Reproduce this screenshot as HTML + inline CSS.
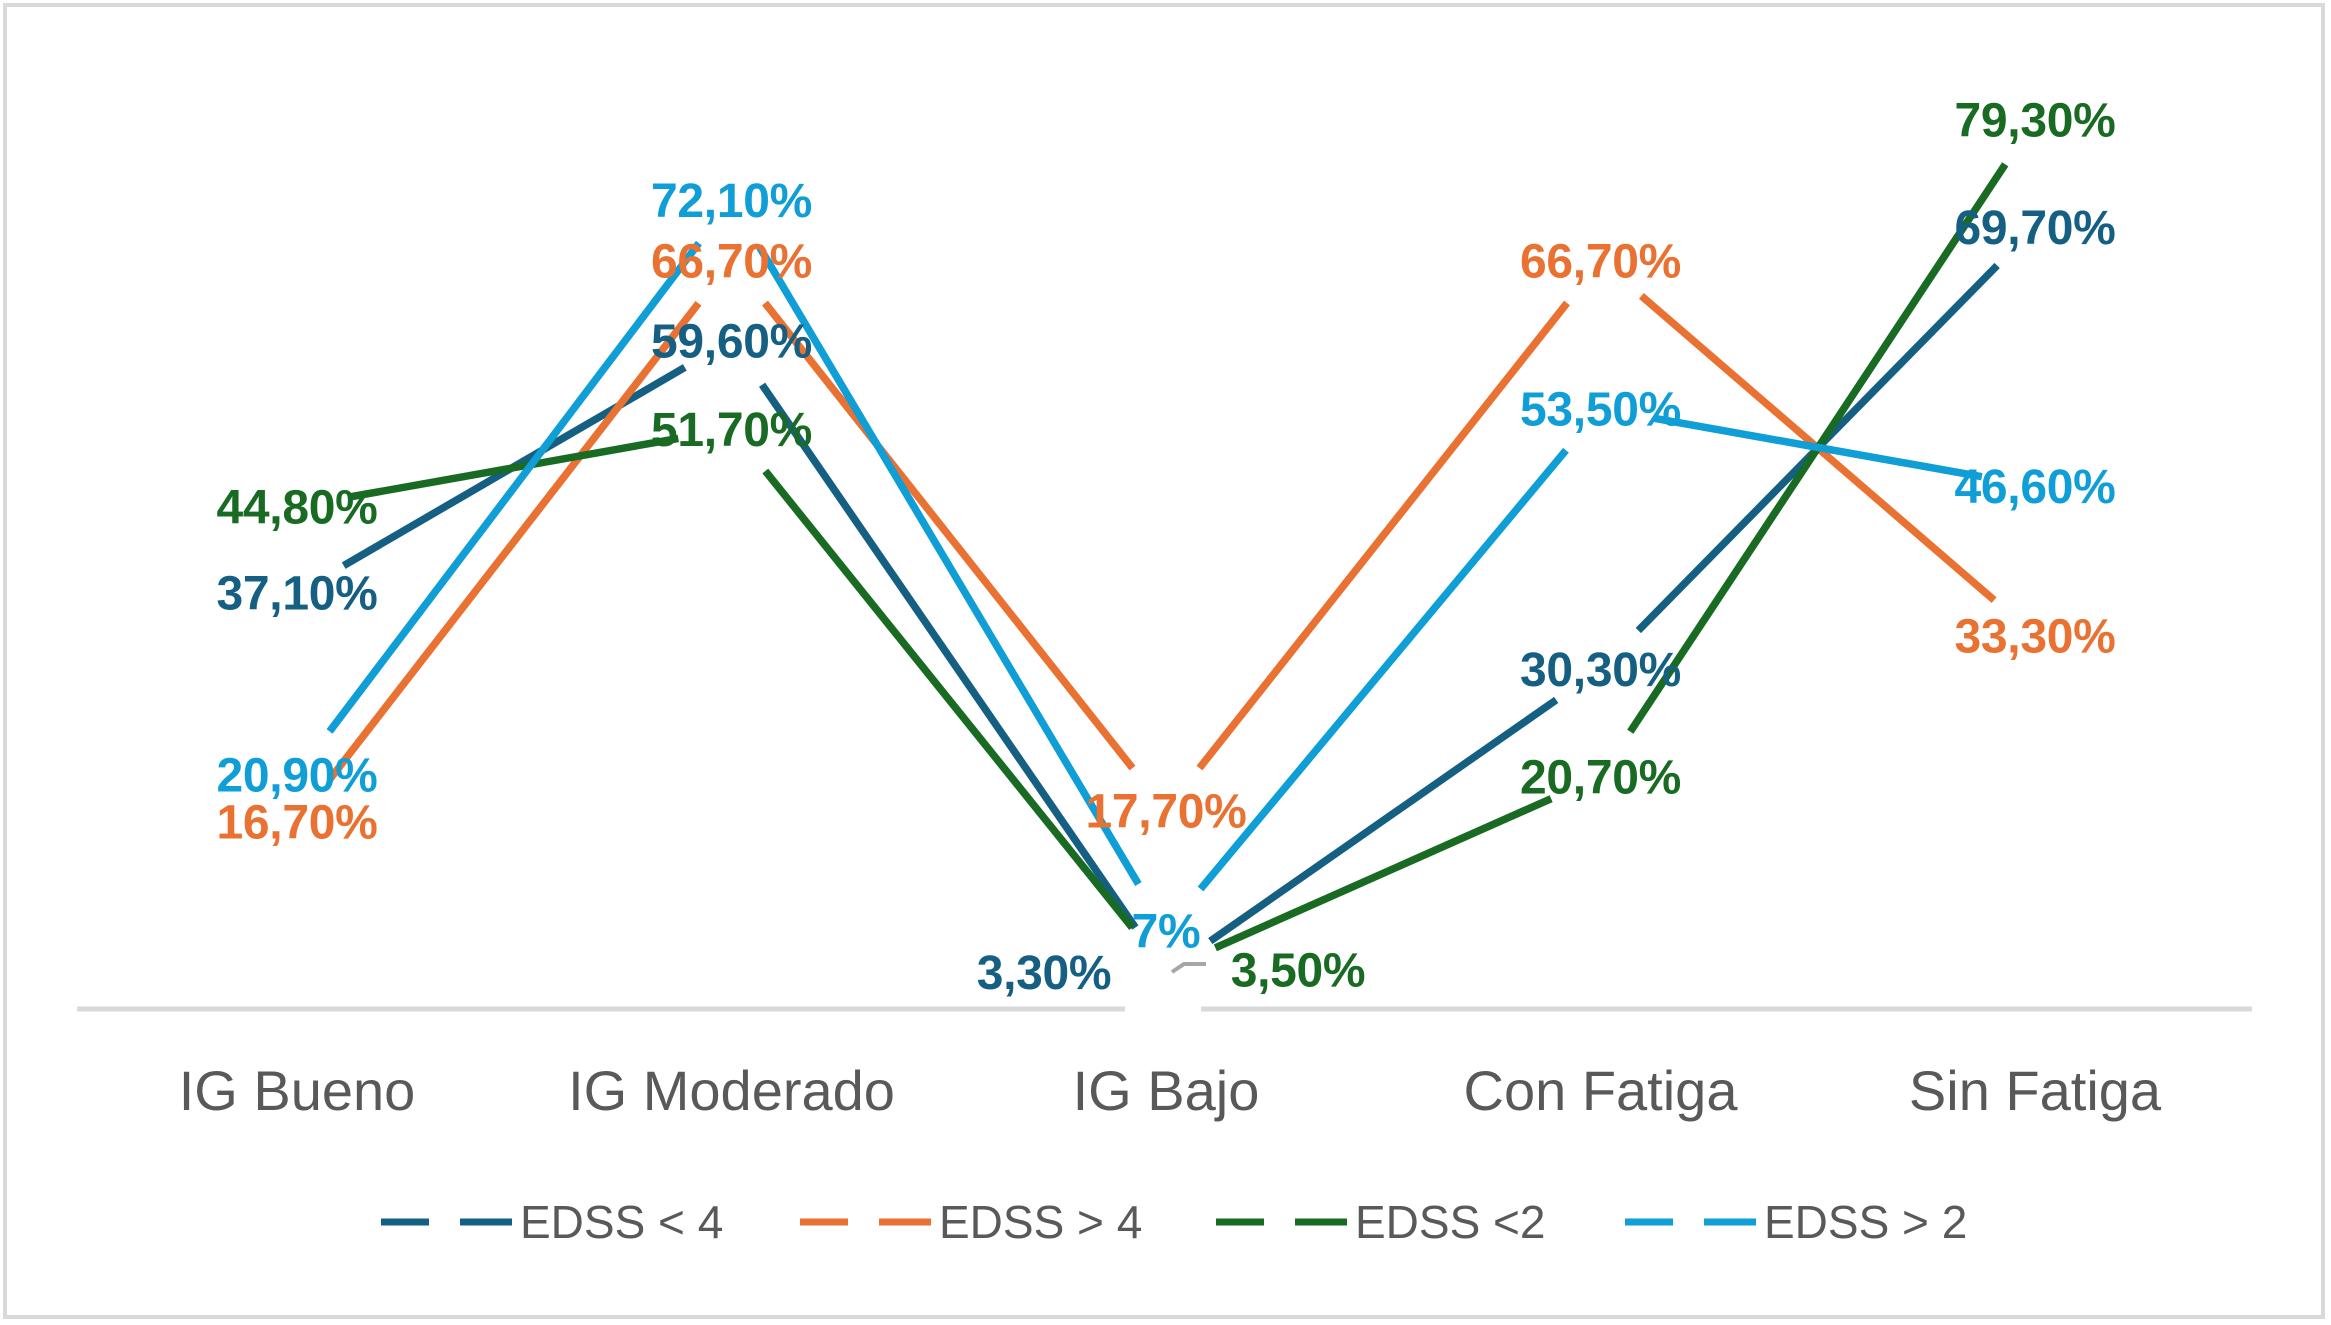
<!DOCTYPE html>
<html><head><meta charset="utf-8">
<style>
html,body{margin:0;padding:0;background:#fff;}
svg{display:block;font-family:"Liberation Sans",sans-serif;}
</style></head>
<body>
<svg id="chart" width="2331" height="1325" viewBox="0 0 2331 1325" xmlns="http://www.w3.org/2000/svg">
<rect x="5" y="5" width="2318" height="1312" fill="#fff" stroke="#d9d9d9" stroke-width="4"/>
<g id="axis"></g>
<g id="lines"></g>
<g id="labels"></g>
<g id="legend"></g>
</svg>
<script>
const categories = ["IG Bueno","IG Moderado","IG Bajo","Con Fatiga","Sin Fatiga"];
const seriesNames = ["EDSS < 4","EDSS > 4","EDSS <2","EDSS > 2"];
const edssLt4 = [37.1, 59.6, 3.3, 30.3, 69.7];
const edssGt4 = [16.7, 66.7, 17.7, 66.7, 33.3];
const edssLt2 = [44.8, 51.7, 3.5, 20.7, 79.3];
const edssGt2 = [20.9, 72.1, 7, 53.5, 46.6];
const labelsLt4 = ["37,10%","59,60%","3,30%","30,30%","69,70%"];
const labelsGt4 = ["16,70%","66,70%","17,70%","66,70%","33,30%"];
const labelsLt2 = ["44,80%","51,70%","3,50%","20,70%","79,30%"];
const labelsGt2 = ["20,90%","72,10%","7%","53,50%","46,60%"];

const colors = ["#156082","#E97132","#196B24","#0F9ED5"];
const series = [edssLt4, edssGt4, edssLt2, edssGt2];
const labelSets = [labelsLt4, labelsGt4, labelsLt2, labelsGt2];
const NS = "http://www.w3.org/2000/svg";
const y0 = 1009, pxPer = 11.22;
function xPos(i){ return 297 + i*434.5; }
function yPos(v){ return y0 - v*pxPer; }
function mk(tag, attrs, parent){
  const e = document.createElementNS(NS, tag);
  for (const k in attrs) e.setAttribute(k, attrs[k]);
  parent.appendChild(e); return e;
}
const ax = document.getElementById('axis');
const a1 = mk('line',{x1:77,y1:y0,x2:1125,y2:y0,stroke:'#d9d9d9','stroke-width':5},ax);


const a2 = mk('line',{x1:1201,y1:y0,x2:2252,y2:y0,stroke:'#d9d9d9','stroke-width':5},ax);


const ll = mk('path',{d:'M1172 972 L1184 964 L1206 964',stroke:'#a6a6a6','stroke-width':4,fill:'none'},ax);


categories.forEach((c,i)=>{
  const t = mk('text',{x:xPos(i),y:1110,'text-anchor':'middle','font-size':56,fill:'#595959'},ax);
  t.textContent = c;
  
  
});
const lg = document.getElementById('lines');
const trim = 54;
series.forEach((s,si)=>{
  for (let i=0;i<s.length-1;i++){
    const xa=xPos(i), ya=yPos(s[i]), xb=xPos(i+1), yb=yPos(s[i+1]);
    const dx=xb-xa, dy=yb-ya, L=Math.hypot(dx,dy);
    const ux=dx/L, uy=dy/L;
    const seg = mk('line',{x1:xa+ux*trim,y1:ya+uy*trim,x2:xb-ux*trim,y2:yb-uy*trim,stroke:colors[si],'stroke-width':7.5},lg);
    
    
  }
});
const lb = document.getElementById('labels');
series.forEach((s,si)=>{
  s.forEach((v,i)=>{
    let dx = 0;
    if (i===2 && si===0) dx = -122;
    if (i===2 && si===2) dx = 132;
    const t = mk('text',{x:xPos(i)+dx,y:yPos(v)+17,'text-anchor':'middle','font-size':48,'font-weight':'bold','letter-spacing':'-0.3',fill:colors[si]},lb);
    t.textContent = labelSets[si][i];
    
    
  });
});
const lgd = document.getElementById('legend');
const legX = [381, 800, 1216, 1625];
seriesNames.forEach((n,si)=>{
  const g = mk('g',{},lgd);
  
  
  mk('line',{x1:legX[si],y1:1222,x2:legX[si]+48,y2:1222,stroke:colors[si],'stroke-width':7},g);
  mk('line',{x1:legX[si]+79,y1:1222,x2:legX[si]+131,y2:1222,stroke:colors[si],'stroke-width':7},g);
  const t = mk('text',{x:legX[si]+139,y:1238,'font-size':46,fill:'#595959'},g);
  t.textContent = n;
});
</script>
</body></html>
